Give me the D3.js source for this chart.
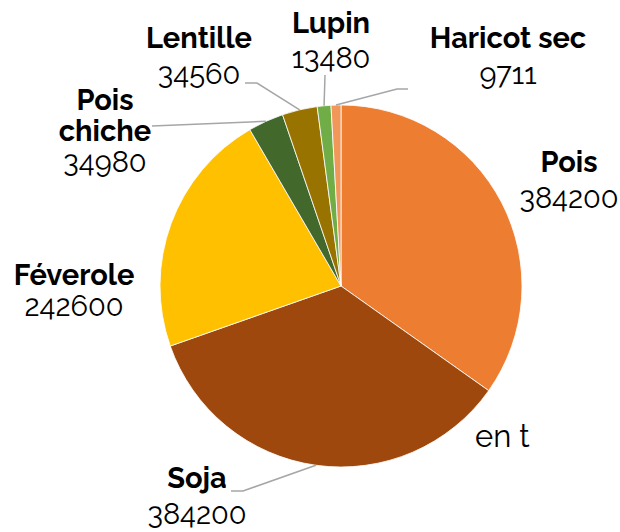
<!DOCTYPE html>
<html><head><meta charset="utf-8">
<script src="https://cdn.jsdelivr.net/npm/d3@7"></script>
<style>body{margin:0;background:#fff}svg{display:block}text{font-family:Raleway,Lato,"Open Sans",sans-serif;fill:#000}</style>
</head><body>
<svg id="c" width="620" height="532"></svg>
<script>
const categories = ["Pois","Soja","Féverole","Pois chiche","Lentille","Lupin","Haricot sec"];
const values = [384200,384200,242600,34980,34560,13480,9711];
const colors = ["#ED7D31","#9E480E","#FFC000","#43682B","#997300","#70AD47","#F1975A"];
const unitLabel = "en t";

const svg = d3.select("#c");
const cx = 341, cy = 286, R = 181;
const g = svg.append("g").attr("transform",`translate(${cx},${cy})`);
const pie = d3.pie().sort(null).value(d=>d)(values);
const arc = d3.arc().innerRadius(0).outerRadius(R);
g.selectAll("path").data(pie).join("path")
 .attr("d",arc).attr("fill",(d,i)=>colors[i]).attr("stroke","#fff").attr("stroke-width",0.8);

const labels = [
 {lines:["Pois"], x:569, ys:[172], vy:208, leader:null},
 {lines:["Soja"], x:197, ys:[488], vy:524, leader:[[243,491],[231,491]]},
 {lines:["Féverole"], x:74, ys:[285], vy:316, leader:null},
 {lines:["Pois","chiche"], x:105, ys:[110,141], vy:172, leader:[[152,126]]},
 {lines:["Lentille"], x:199, ys:[48], vy:84, leader:[[257,83],[245,83]]},
 {lines:["Lupin"], x:331, ys:[33], vy:68, leader:[[325,75]]},
 {lines:["Haricot sec"], x:508, ys:[48], vy:84, leader:[[397,89],[408,89]]}
];
pie.forEach((d,i)=>{
  const L = labels[i];
  if(L.leader){
    const a = (d.startAngle+d.endAngle)/2;
    const p0 = [cx+R*Math.sin(a), cy-R*Math.cos(a)];
    svg.append("path").attr("d",d3.line()([p0,...L.leader]))
      .attr("fill","none").attr("stroke","#A6A6A6").attr("stroke-width",1.5);
  }
  const t = svg.append("text").attr("text-anchor","middle");
  L.lines.forEach((ln,k)=>{
    t.append("tspan").attr("x",L.x).attr("y",L.ys[k]).attr("font-weight","bold").attr("font-size",29).text(ln);
  });
  t.append("tspan").attr("x",L.x).attr("y",L.vy).attr("font-size",29).text(values[i]);
});
svg.append("text").attr("x",475).attr("y",447).attr("font-size",31).text(unitLabel);
</script>
</body></html>
